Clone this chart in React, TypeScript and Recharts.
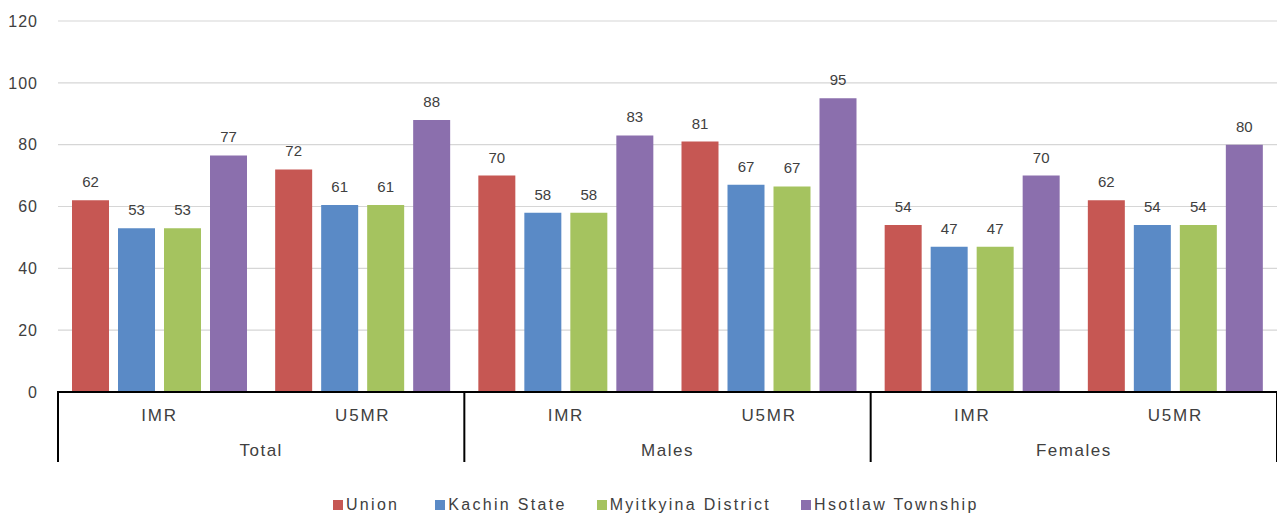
import React from 'react';
import { BarChart, Bar, XAxis, YAxis, CartesianGrid, Legend, LabelList } from 'recharts';

const categories = ['IMR', 'U5MR', 'IMR', 'U5MR', 'IMR', 'U5MR'];
const groups = ['Total', 'Males', 'Females'];
const union = [62, 72, 70, 81, 54, 62];
const kachin = [53, 60.5, 58, 67, 47, 54];
const myitkyina = [53, 60.5, 58, 66.5, 47, 54];
const hsotlaw = [76.5, 88, 83, 95, 70, 80];
const yTicks = [0, 20, 40, 60, 80, 100, 120];

const seriesNames = ['Union', 'Kachin State', 'Myitkyina District', 'Hsotlaw Township'];
const seriesKeys = ['union', 'kachin', 'myitkyina', 'hsotlaw'];
const colors = ['#C65753', '#5A8AC6', '#A5C35F', '#8B6FAD'];

const data = categories.map((c, i) => ({
  key: `${groups[Math.floor(i / 2)]}-${c}-${i}`,
  union: union[i],
  kachin: kachin[i],
  myitkyina: myitkyina[i],
  hsotlaw: hsotlaw[i],
}));

const FONT = '"Liberation Sans", Arial, sans-serif';
const TEXT = '#404040';

const CategoryTick = (props: any) => {
  const { x, y, index } = props;
  const plotW = typeof props.width === 'number' && props.width > 0 ? props.width : 1219;
  const bw = plotW / categories.length;
  return (
    <g>
      <text x={x} y={y + 23} dy="0.36em" textAnchor="middle" fill={TEXT} fontSize={17} fontFamily={FONT} letterSpacing={1.8}>
        {categories[index]}
      </text>
      {index % 2 === 0 && (
        <>
          <line x1={x - bw / 2} x2={x - bw / 2} y1={y - 1} y2={y + 70} stroke="#000" strokeWidth={2} />
          <text x={x + bw / 2} y={y + 58} dy="0.36em" textAnchor="middle" fill={TEXT} fontSize={17} fontFamily={FONT} letterSpacing={1.5}>
            {groups[index / 2]}
          </text>
        </>
      )}
      {index === categories.length - 1 && (
        <line x1={x + bw / 2} x2={x + bw / 2} y1={y - 1} y2={y + 70} stroke="#000" strokeWidth={2} />
      )}
    </g>
  );
};

const renderLegend = () => (
  <div style={{ display: 'flex', alignItems: 'center', height: 20, paddingLeft: 325, fontFamily: FONT, fontSize: 16, color: TEXT, letterSpacing: 2.3 }}>
    {seriesNames.map((n, i) => (
      <div key={n} style={{ display: 'flex', alignItems: 'center', marginRight: i === 0 ? 36 : 30, whiteSpace: 'nowrap' }}>
        <span style={{ display: 'inline-block', width: 10, height: 10, background: colors[i], marginRight: 3 }} />
        <span>{n}</span>
      </div>
    ))}
  </div>
);

export default function App() {
  return (
    <BarChart
      width={1277}
      height={509}
      data={data}
      margin={{ top: 13, right: 8, bottom: 2, left: 0 }}
      barSize={37}
      barGap={9}
    >
      <CartesianGrid vertical={false} stroke="#D6D6D6" strokeWidth={1.2} />
      <YAxis
        domain={[0, 120]}
        ticks={yTicks}
        width={50}
        axisLine={false}
        tickLine={false}
        tickSize={0}
        tickMargin={20}
        tick={{ fill: TEXT, fontSize: 16, fontFamily: FONT, letterSpacing: 1 }}
      />
      <XAxis
        dataKey="key"
        height={103}
        interval={0}
        tickLine={false}
        tickSize={0}
        tickMargin={0}
        axisLine={{ stroke: '#000', strokeWidth: 2 }}
        tick={<CategoryTick />}
      />
      <Legend verticalAlign="bottom" height={20} content={renderLegend} />
      {seriesKeys.map((k, i) => (
        <Bar key={k} dataKey={k} name={seriesNames[i]} fill={colors[i]} isAnimationActive={false}>
          <LabelList
            dataKey={k}
            position="top"
            offset={13}
            formatter={(v: any) => Math.round(Number(v))}
            fill={TEXT}
            fontSize={15}
            fontFamily={FONT}
          />
        </Bar>
      ))}
    </BarChart>
  );
}
